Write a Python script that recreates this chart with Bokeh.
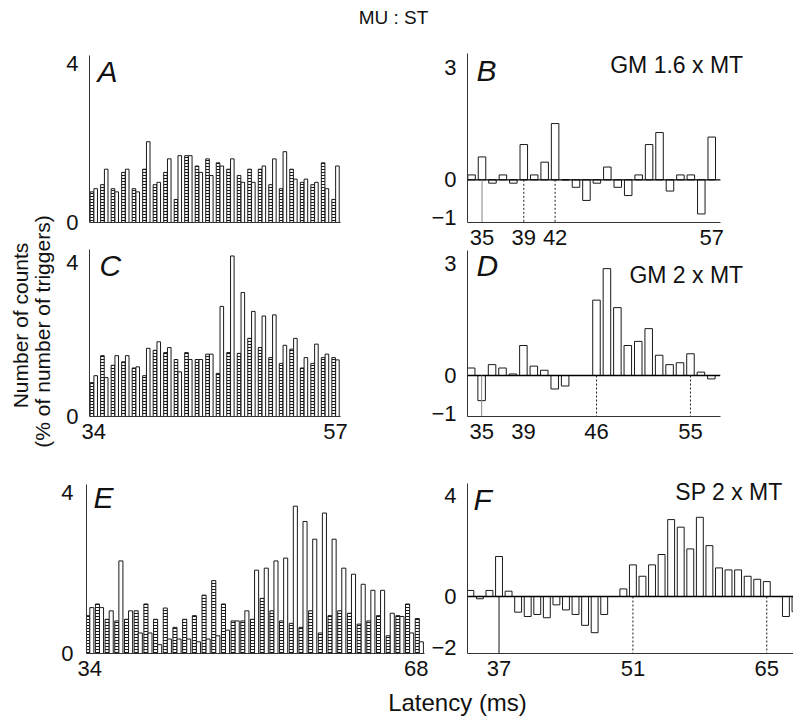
from math import pi
from bokeh.plotting import figure
from bokeh.models import Label, FixedTicker, Range1d, ColumnDataSource
from bokeh.transform import dodge
from bokeh.layouts import row, column
from bokeh.embed import file_html
from bokeh.resources import INLINE

# ---------------- data ----------------
latency_34_57 = list(range(34, 58))
latency_34_68 = list(range(34, 69))

# left column: control (hatched) and conditioned (open) counts, % of triggers
a_control = [0.77, 0.95, 0.85, 1.26, 0.85, 1.34, 0.95, 1.26, 0.58, 1.68, 1.42, 1.60,
             1.50, 1.34, 1.18, 1.34, 1.34, 0.95, 0.85, 1.34, 1.01, 0.95, 1.50, 0.58]
a_conditioned = [0.85, 1.34, 0.77, 1.34, 0.77, 2.03, 1.01, 1.60, 1.68, 1.68, 1.26, 1.18,
                 1.42, 1.60, 1.01, 1.01, 1.42, 1.60, 1.78, 1.09, 1.09, 1.01, 0.85, 1.42]
c_control = [0.88, 1.58, 1.33, 1.42, 1.26, 1.06, 1.72, 1.66, 1.48, 1.66, 1.48, 1.62,
             1.12, 1.66, 1.64, 2.03, 1.79, 1.53, 1.38, 1.75, 1.26, 1.38, 1.53, 1.53]
c_conditioned = [1.06, 1.01, 1.58, 1.58, 1.29, 1.77, 1.94, 1.79, 1.16, 1.48, 1.48, 1.62,
                 2.86, 4.17, 3.22, 2.73, 2.61, 2.64, 1.85, 2.03, 1.53, 1.88, 1.62, 1.47]
e_control = [0.94, 1.23, 0.85, 0.81, 0.85, 1.06, 1.23, 0.85, 1.13, 0.65, 0.85, 0.94,
             1.45, 1.81, 1.23, 0.81, 0.81, 0.85, 1.37, 1.06, 0.81, 0.75, 0.65, 1.06,
             0.51, 0.94, 1.06, 1.00, 0.73, 0.81, 0.94, 0.44, 0.94, 1.23, 0.87]
e_conditioned = [1.14, 1.14, 1.06, 2.30, 1.06, 0.51, 0.51, 0.22, 0.36, 0.36, 0.36, 0.29,
                 0.36, 0.44, 0.58, 0.81, 1.06, 2.07, 2.12, 2.30, 2.37, 3.66, 3.28, 2.84,
                 3.49, 2.84, 2.12, 1.97, 1.72, 1.57, 1.57, 1.00, 0.92, 0.51, 0.29]

# right column: differences (conditioned - control)
b_difference = [0.13, 0.61, -0.09, 0.13, -0.09, 0.94, 0.13, 0.47, 1.50, 0.0, -0.20, -0.55,
                -0.09, 0.34, -0.20, -0.42, 0.13, 0.94, 1.26, -0.30, 0.13, 0.13, -0.91, 1.14]
d_difference = [0.20, -0.67, 0.29, 0.20, 0.04, 0.80, 0.25, 0.14, -0.36, -0.28, 0.0, 0.0,
                2.01, 2.85, 1.81, 0.80, 0.91, 1.25, 0.54, 0.29, 0.34, 0.58, 0.09, -0.09]
f_difference = [0.24, -0.09, 0.24, 1.58, 0.21, -0.62, -0.79, -0.71, -0.84, -0.33, -0.53, -0.71,
                -1.14, -1.43, -0.71, 0.0, 0.30, 1.25, 0.80, 1.25, 1.66, 3.04, 2.74, 1.88,
                3.13, 2.01, 1.13, 1.05, 1.05, 0.80, 0.68, 0.59, 0.0, -0.79, -0.60]

a_xticks, a_yticks = [], [0, 4]
b_xticks, b_yticks = [35, 39, 42, 57], [-1, 0, 3]
c_xticks, c_yticks = [34, 57], [0, 4]
d_xticks, d_yticks = [35, 39, 46, 55], [-1, 0, 3]
e_xticks, e_yticks = [34, 68], [0, 4]
f_xticks, f_yticks = [37, 51, 65], [-2, 0, 4]

b_solid, b_dotted = [35], [39, 42]
d_solid, d_dotted = [35], [46, 55]
f_solid, f_dotted = [37], [51, 65]

FONT = "Liberation Sans"
INK = "#1a1a1a"
TICK_SIZE = "22px"


def panel(ox, oy, w, h, fl, ft, fb, xv, xpx, xs, y0px, ys, xb_end, yb_top,
          xticks, yticks, ystandoff=5):
    x0 = xv - (xpx - (ox + fl)) / xs
    x1 = x0 + (w - fl) / xs
    y1 = (y0px - (oy + ft)) / ys
    y0 = -((oy + fb) - y0px) / ys
    p = figure(width=w, height=h, x_range=Range1d(x0, x1), y_range=Range1d(y0, y1),
               min_border_left=fl, min_border_right=0, min_border_top=ft,
               min_border_bottom=h - fb, toolbar_location=None, output_backend="svg",
               title=None)
    p.outline_line_color = None
    p.grid.visible = False
    for ax in (p.xaxis[0], p.yaxis[0]):
        ax.major_tick_line_color = None
        ax.minor_tick_line_color = None
        ax.axis_line_color = "#333333"
        ax.axis_line_width = 1
        ax.major_label_text_font = FONT
        ax.major_label_text_font_size = TICK_SIZE
        ax.major_label_text_color = "#111111"
    p.xaxis[0].ticker = FixedTicker(ticks=xticks)
    p.yaxis[0].ticker = FixedTicker(ticks=yticks)
    p.xaxis[0].major_label_standoff = 1
    p.yaxis[0].major_label_standoff = ystandoff
    p.xaxis[0].bounds = (x0, xb_end)
    p.yaxis[0].bounds = (y0, yb_top)
    geo = dict(
        px=lambda X: x0 + (X - ox - fl) / xs,
        py=lambda Y: (y0px - Y) / ys,
        x_lo=x0, y_lo=y0, xb_end=xb_end,
    )
    return p, geo


def paired_bars(p, lat, ctrl, cond, off, wid):
    src = ColumnDataSource(dict(lat=lat, ctrl=ctrl, cond=cond))
    p.vbar(x=dodge("lat", -off, range=p.x_range), top="ctrl", bottom=0, width=wid, source=src,
           fill_color="white", hatch_pattern="-", hatch_color="#1a1a1a", hatch_scale=3,
           hatch_weight=1, line_color=INK, line_width=1)
    p.vbar(x=dodge("lat", off, range=p.x_range), top="cond", bottom=0, width=wid, source=src,
           fill_color="white", line_color=INK, line_width=1)


def diff_bars(p, geo, lat, diff, solid, dotted, solid_color):
    src = ColumnDataSource(dict(lat=lat, diff=diff))
    p.vbar(x="lat", top="diff", bottom=0, width=0.72, source=src,
           fill_color="white", line_color=INK, line_width=1)
    p.segment(x0=[geo["x_lo"]], y0=[0], x1=[geo["xb_end"]], y1=[0],
              line_color="#000000", line_width=1.3)
    p.segment(x0=solid, y0=[0] * len(solid), x1=solid, y1=[geo["y_lo"]] * len(solid),
              line_color=solid_color, line_width=1)
    p.segment(x0=dotted, y0=[0] * len(dotted), x1=dotted, y1=[geo["y_lo"]] * len(dotted),
              line_color="#222222", line_width=1, line_dash="2 2")


def add_text(p, geo, X, Y, text, size, italic=False, align="left"):
    p.add_layout(Label(x=geo["px"](X), y=geo["py"](Y), text=text, text_font=FONT,
                       text_font_size=size, text_font_style="italic" if italic else "normal",
                       text_align=align, text_baseline="middle", text_color="#111111"))


# ---------------- panels (page-pixel geometry) ----------------
pA, gA = panel(58, 38, 370, 211, 31, 2, 185, 34, 93.3, 10.51, 223, 40.0, 57.48, 4.2, a_xticks, a_yticks)
pB, gB = panel(428, 38, 365, 211, 35, 2, 184, 35, 477.7, 10.57, 179.3, 37.5, 57.83, 3.37, b_xticks, b_yticks)
pC, gC = panel(58, 249, 370, 221, 31, 0, 167, 34, 93.3, 10.51, 416, 38.5, 57.48, 4.33, c_xticks, c_yticks)
pD, gD = panel(428, 249, 365, 221, 35, 0, 167, 35, 477.3, 10.57, 375, 37.5, 57.85, 3.33, d_xticks, d_yticks)
pE, gE = panel(58, 470, 370, 210, 27, 0, 183, 34, 88.3, 9.72, 653, 40.25, 68.5, 4.2, e_xticks, e_yticks, 7)
pF, gF = panel(428, 470, 365, 210, 34, 0, 183, 37, 494, 9.71, 596, 25.3, 70, 4.45, f_xticks, f_yticks)

paired_bars(pA, latency_34_57, a_control, a_conditioned, 0.18, 0.34)
paired_bars(pC, latency_34_57, c_control, c_conditioned, 0.18, 0.34)
paired_bars(pE, latency_34_68, e_control, e_conditioned, 0.21, 0.42)

diff_bars(pB, gB, latency_34_57, b_difference, b_solid, b_dotted, "#888888")
diff_bars(pD, gD, latency_34_57, d_difference, d_solid, d_dotted, "#888888")
diff_bars(pF, gF, latency_34_68, f_difference, f_solid, f_dotted, "#111111")

add_text(pA, gA, 97, 71, "A", "30px", italic=True)
add_text(pB, gB, 472, 70, "B", "30px", italic=True)
add_text(pB, gB, 742, 64, "GM 1.6 x MT", "23px", align="right")
add_text(pC, gC, 99, 265, "C", "30px", italic=True)
add_text(pD, gD, 472, 265, "D", "30px", italic=True)
add_text(pD, gD, 742, 274, "GM 2 x MT", "23px", align="right")
add_text(pE, gE, 92, 497, "E", "30px", italic=True)
add_text(pF, gF, 468, 499, "F", "30px", italic=True)
add_text(pF, gF, 782, 491, "SP 2 x MT", "23px", align="right")


def text_fig(w, h):
    f = figure(width=w, height=h, x_range=Range1d(0, w), y_range=Range1d(0, h),
               x_axis_type=None, y_axis_type=None, toolbar_location=None,
               output_backend="svg", title=None, min_border=0)
    f.outline_line_color = None
    f.grid.visible = False
    return f


title_fig = text_fig(793, 38)
title_fig.add_layout(Label(x=393, y=21, text="MU : ST", text_font=FONT, text_font_size="19px",
                           text_align="center", text_baseline="middle", text_color="#111111"))

ylab_fig = text_fig(58, 642)
ylab_fig.add_layout(Label(x=20, y=355, text="Number of counts", angle=pi / 2, text_font=FONT,
                          text_font_size="21px", text_align="center", text_baseline="middle",
                          text_color="#111111"))
ylab_fig.add_layout(Label(x=42, y=349, text="(% of number of triggers)", angle=pi / 2,
                          text_font=FONT, text_font_size="21px", text_align="center",
                          text_baseline="middle", text_color="#111111"))

xlab_fig = text_fig(793, 39)
xlab_fig.add_layout(Label(x=457, y=17, text="Latency (ms)", text_font=FONT, text_font_size="24px",
                          text_align="center", text_baseline="middle", text_color="#111111"))

grid = column(row(pA, pB), row(pC, pD), row(pE, pF))
page = column(title_fig, row(ylab_fig, grid), xlab_fig)

open("out.html", "w").write(file_html(page, INLINE))
